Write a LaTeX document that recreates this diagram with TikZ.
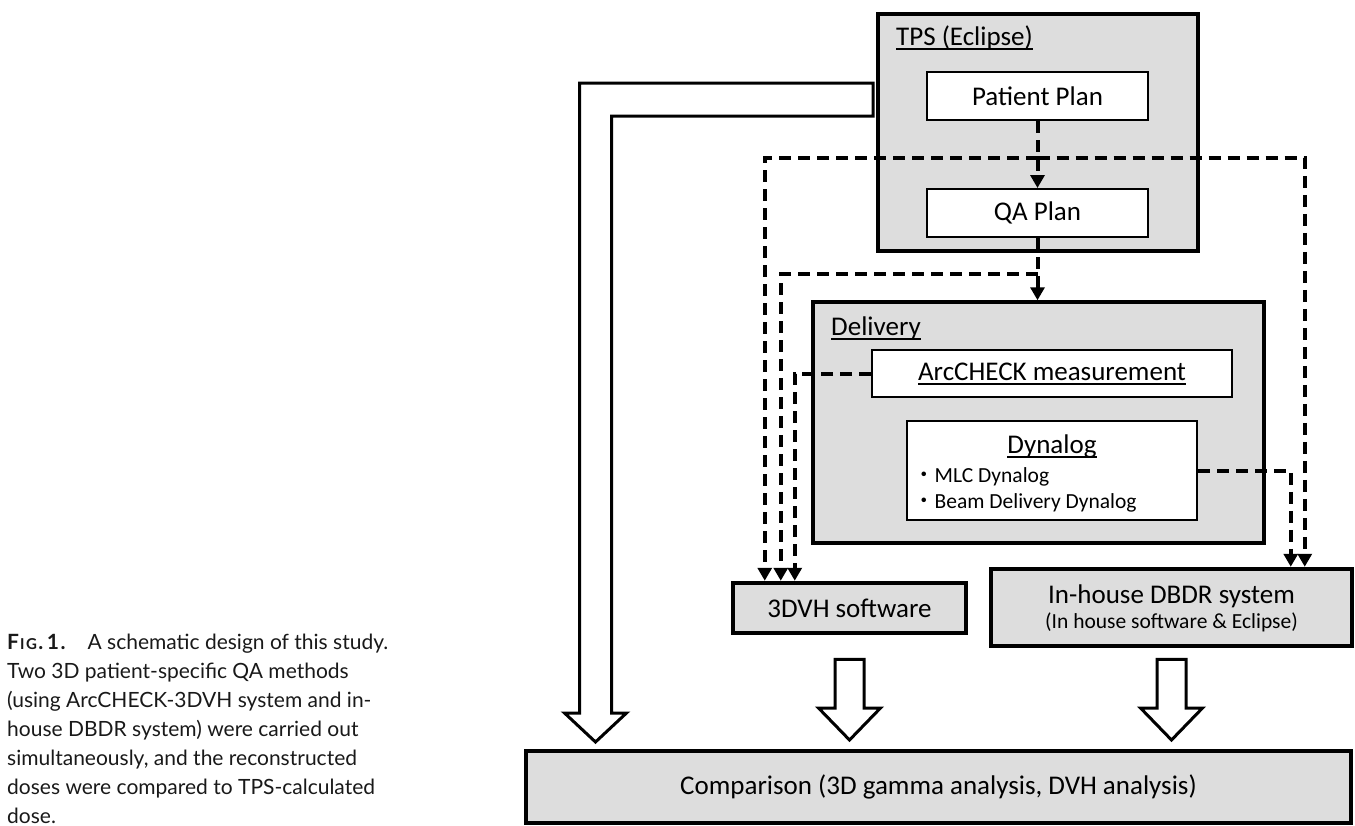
\documentclass[tikz,border=0pt]{standalone}
\usepackage{fontspec}
\setmainfont{Carlito}
\newfontfamily\capfont{Lato}
\newfontfamily\jpfont{Noto Sans CJK JP}
\usetikzlibrary{arrows.meta,calc}

\definecolor{boxgray}{RGB}{221,221,221}

% underline with a heavier rule
\newcommand{\ulc}[1]{\setbox0\hbox{#1}\rlap{\rule[-4.5pt]{\wd0}{1.4pt}}\box0}

% hollow block arrow from #1 down to the tip at the height of #2
\newcommand{\fatarrow}[2]{%
  \draw[hollow] let \p1=(#1), \p2=(#2) in
    (\x1-14.5pt,\y1) -- (\x1+14.5pt,\y1) -- (\x1+14.5pt,\y2+32pt)
    -- (\x1+31pt,\y2+32pt) -- (\x1,\y2) -- (\x1-31pt,\y2+32pt)
    -- (\x1-14.5pt,\y2+32pt) -- cycle;}

\tikzset{
  group/.style={draw, line width=3.5pt, fill=boxgray, inner sep=0pt},
  item/.style={draw, line width=2pt, fill=white, inner sep=0pt},
  result/.style={draw, line width=4.5pt, fill=boxgray, inner sep=0pt},
  title/.style={anchor=base west, inner sep=0pt},
  dline/.style={line width=4pt, dash pattern=on 12pt off 7pt,
    -{Triangle[width=14pt,length=13pt]}},
  hollow/.style={draw, line width=3pt, fill=white, line join=miter},
}

\begin{document}
\begin{tikzpicture}[x=1pt,y=-1pt,font=\fontsize{27}{31}\selectfont]
  \useasboundingbox (0,0) rectangle (1355,825);

  % long arrow from the TPS down to the comparison
  \draw[hollow] (873,83) -- (579.5,83) -- (579.5,713) -- (564.5,713)
    -- (595.5,742) -- (626.5,713) -- (611.5,713) -- (611.5,116)
    -- (873,116) -- cycle;

  % TPS
  \node[group, minimum width=320, minimum height=237] (tps) at (1038,132.5) {};
  \node[title] (tpstitle) at (896,45) {\ulc{TPS (Eclipse)}};
  \node[item, minimum width=221, minimum height=48] (pp) at (1037.5,96) {Patient Plan};
  \node[item, minimum width=221, minimum height=48] (qa) at (1037.5,213) {QA Plan};

  % Delivery
  \node[group, minimum width=451, minimum height=241] (dlv) at (1038.5,422.5) {};
  \node[title] (dlvtitle) at (831,335) {\ulc{Delivery}};
  \node[item, minimum width=360, minimum height=47] (arc) at (1052,373.5) {\ulc{ArcCHECK measurement}};
  \node[item, minimum width=290, minimum height=99] (dyn) at (1052,470.5) {};
  \node[anchor=base, inner sep=0pt] (dyntitle) at (1052,453) {\ulc{Dynalog}};
  \node[title, font=\fontsize{21.5}{26}\selectfont] (mlc) at (913,482) {{\jpfont ・}MLC Dynalog};
  \node[title, font=\fontsize{21.5}{26}\selectfont] (beam) at (913,508) {{\jpfont ・}Beam Delivery Dynalog};

  % reconstruction
  \node[result, minimum width=233, minimum height=50] (dvh) at (849.5,608) {3DVH software};
  \node[result, minimum width=361, minimum height=77] (dbdr) at (1171.5,607.5) {};
  \node[anchor=base, inner sep=0pt] (dbdrname) at (1171.5,603) {In-house DBDR system};
  \node[anchor=base, inner sep=0pt, font=\fontsize{21.5}{22}\selectfont] (dbdrnote) at (1171.5,628) {(In house software \& Eclipse)};
  \node[result, line width=4pt, minimum width=825, minimum height=72] (cmp) at (938.5,787) {Comparison (3D gamma analysis, DVH analysis)};

  % data flow
  \coordinate (j1) at ([yshift=-37pt]pp.south);
  \coordinate (j2) at ([yshift=-36pt]qa.south);
  \draw[dline] (pp.south) -- (qa.north);
  \draw[dline] (j1) -| ([xshift=34pt]dvh.north west);
  \draw[dline] (j1) -| ([xshift=316pt]dbdr.north west);
  \draw[dline] (qa.south) -- (qa.south |- dlv.north);
  \draw[dline] (j2) -| ([xshift=50pt]dvh.north west);
  \draw[dline] (arc.west) -| ([xshift=64pt]dvh.north west);
  \draw[dline] (dyn.east) -| ([xshift=302pt]dbdr.north west);

  \fatarrow{$(dvh.south)+(0,24)$}{$(cmp.north)+(0,-9)$}
  \fatarrow{$(dbdr.south)+(0,11)$}{$(cmp.north)+(0,-9)$}

  % caption
  \node[title, font=\capfont\fontsize{21}{29}\selectfont, text=black!90] (caption) at (7,649)
    {\parbox[t]{470pt}{\raggedright
      \textbf{F\kern1pt{\fontsize{15}{29}\selectfont I\kern1.5pt G}\kern1.5pt.\kern3.5pt 1\kern1.5pt.}\hspace{22pt}A schematic design of this study.\\
      Two 3D patient-specific QA methods\\
      (using ArcCHECK-3DVH system and in-\\
      house DBDR system) were carried out\\
      simultaneously, and the reconstructed\\
      doses were compared to TPS-calculated\\
      dose.}};
\end{tikzpicture}
\end{document}
